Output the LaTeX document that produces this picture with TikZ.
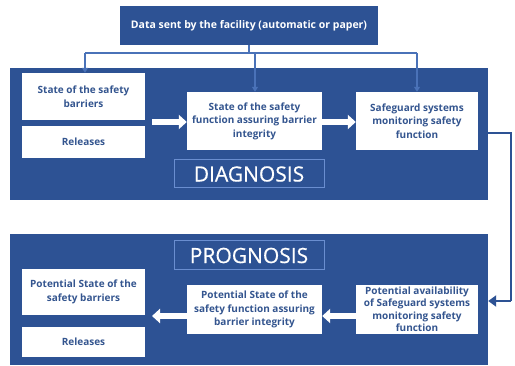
\documentclass[tikz,border=0pt]{standalone}
\usepackage{fontspec}
\setmainfont{Open Sans}
\newfontfamily\labfont[FakeBold=0.6]{Open Sans}
\usetikzlibrary{arrows.meta}
\definecolor{dblue}{HTML}{2D5294}
\definecolor{tblue}{HTML}{34558F}
\definecolor{mblue}{HTML}{4A72B8}
\definecolor{lblue}{HTML}{6A8ED0}
\begin{document}
\begin{tikzpicture}[x=1pt,y=-1pt,
  panel/.style={fill=dblue,draw=none,minimum width=478pt,inner sep=0pt},
  wbox/.style={fill=white,draw=none,text=tblue,font=\fontsize{10}{13.5}\selectfont\bfseries,align=center,inner sep=0pt},
  lab/.style={draw=lblue,line width=1pt,fill=dblue,text=white,font=\labfont\fontsize{21}{22}\selectfont,minimum width=150pt,inner sep=0pt},
  feed/.style={draw=mblue,line width=1.8pt,-{Triangle[width=6pt,length=5pt]}},
  bigarr/.style={draw=white,line width=6pt,-{Triangle[width=14pt,length=8pt]}},
  link/.style={draw=dblue,line width=2.5pt}
]
\useasboundingbox (0,0) rectangle (515,366);
\fill[white] (0,0) rectangle (515,366);
% top box
\node[fill=dblue,text=white,font=\fontsize{10.5}{12}\selectfont\bfseries,minimum width=258pt,minimum height=39pt,inner sep=0pt] (top) at (249,25.5) {Data sent by the facility (automatic or paper)};
% panels
\node[panel,minimum height=132pt] (diag) at (249,134) {};
\node[panel,minimum height=131pt] (prog) at (249,299.5) {};
% diagnosis boxes
\node[wbox,minimum width=123pt,minimum height=47pt] (sb) at (83.5,96.5) {State of the safety\\barriers};
\node[wbox,minimum width=123pt,minimum height=32pt] (rel) at (83.5,142) {Releases};
\node[wbox,minimum width=135pt,minimum height=58pt] (mid) at (254.5,121) {State of the safety\\function assuring barrier\\integrity};
\node[wbox,minimum width=122pt,minimum height=58pt] (rt) at (417,121) {Safeguard systems\\monitoring safety\\function};
\node[lab,minimum height=28pt] (dlab) at (249,174) {DIAGNOSIS};
% prognosis boxes
\node[lab,minimum height=29pt] (plab) at (249,255.5) {PROGNOSIS};
\node[wbox,minimum width=123pt,minimum height=46pt] (psb) at (83.5,292) {Potential State of the\\safety barriers};
\node[wbox,minimum width=123pt,minimum height=30pt] (prel) at (83.5,342) {Releases};
\node[wbox,minimum width=135pt,minimum height=49pt] (pmid) at (254.5,309.5) {Potential State of the\\safety function assuring\\barrier integrity};
\node[wbox,minimum width=122pt,minimum height=49pt,font=\fontsize{10}{12.5}\selectfont\bfseries] (prt) at (417,309.5) {Potential availability\\of Safeguard systems\\monitoring safety\\function};
% feed lines
\coordinate (j) at (249,53);
\coordinate (jl) at (85,53);
\coordinate (jm) at (255,53);
\coordinate (jr) at (417,53);
\draw[draw=mblue,line width=1.8pt] (top.south) -- (j);
\draw[draw=mblue,line width=1.8pt] (jl) -- (jr);
\draw[feed] (jl) -- (jl |- sb.north);
\draw[feed] (jm) -- (jm |- mid.north);
\draw[feed] (jr) -- (rt.north);
% white arrows
\draw[bigarr] (152,122) -- (mid.west |- 0,122);
\draw[bigarr] (mid.east |- 0,122) -- (rt.west |- 0,122);
\draw[bigarr] (pmid.west |- 0,316) -- (152,316);
\draw[bigarr] (prt.west |- 0,316) -- (pmid.east |- 0,316);
% link diagnosis -> prognosis
\coordinate (c1) at (511,133);
\coordinate (c2) at (511,301);
\draw[link] (rt.east |- c1) -- (c1) -- (c2);
\draw[link,-{Triangle[width=11pt,length=8pt]}] (c2) -- (prog.east |- c2);
\end{tikzpicture}
\end{document}
